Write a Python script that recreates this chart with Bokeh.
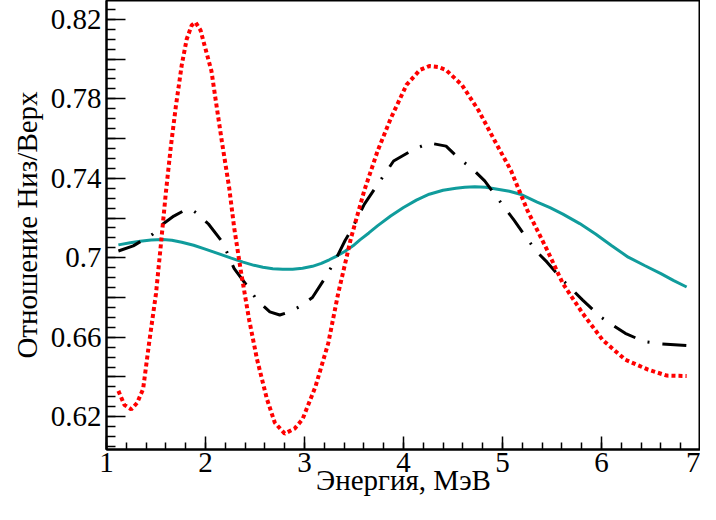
from bokeh.plotting import figure
from bokeh.models import FixedTicker, Range1d
from bokeh.embed import file_html
from bokeh.resources import INLINE

# Red dotted curve
red_x = [1.12, 1.18, 1.25, 1.31, 1.37, 1.43, 1.50, 1.55, 1.60, 1.65, 1.70, 1.76, 1.81, 1.86, 1.90,
         1.95, 1.99, 2.06, 2.11, 2.17, 2.24, 2.29, 2.355, 2.44, 2.52, 2.62, 2.70, 2.80, 2.90, 2.98,
         3.11, 3.24, 3.34, 3.41, 3.47, 3.605, 3.74, 3.87, 4.03, 4.165, 4.26, 4.35, 4.43, 4.59, 4.76,
         4.92, 5.085, 5.25, 5.45, 5.61, 5.81, 6.01, 6.24, 6.47, 6.66, 6.86]
red_y = [0.633, 0.626, 0.6237, 0.627, 0.634, 0.657, 0.682, 0.707, 0.733, 0.756, 0.776, 0.797, 0.810, 0.817, 0.8185,
         0.8145, 0.807, 0.794, 0.777, 0.757, 0.735, 0.715, 0.694, 0.669, 0.649, 0.629, 0.617, 0.6115, 0.614, 0.6187,
         0.635, 0.657, 0.682, 0.697, 0.710, 0.734, 0.754, 0.770, 0.787, 0.7945, 0.7965, 0.796, 0.7945, 0.787, 0.774,
         0.759, 0.744, 0.724, 0.704, 0.687, 0.672, 0.6587, 0.6487, 0.6437, 0.6407, 0.6405]

# Black dash-dot curve
blk_x = [1.12, 1.27, 1.47, 1.57, 1.68, 1.78, 1.85, 1.91, 2.03, 2.17, 2.29, 2.44, 2.52, 2.65, 2.75, 2.85,
         2.96, 3.08, 3.21, 3.31, 3.41, 3.47, 3.605, 3.74, 3.90, 4.10, 4.26, 4.43, 4.56, 4.69, 4.82, 4.95,
         5.12, 5.25, 5.35, 5.45, 5.61, 5.81, 5.99, 6.11, 6.24, 6.43, 6.60, 6.86]
blk_y = [0.7034, 0.706, 0.712, 0.717, 0.721, 0.7237, 0.7245, 0.7225, 0.717, 0.708, 0.6945, 0.6845, 0.6787, 0.6728, 0.6712, 0.6728,
         0.6757, 0.680, 0.690, 0.6987, 0.7087, 0.7137, 0.727, 0.737, 0.7487, 0.7545, 0.7578, 0.7562, 0.750, 0.745, 0.7387, 0.730,
         0.7187, 0.7095, 0.7028, 0.6978, 0.6887, 0.6787, 0.6703, 0.6662, 0.662, 0.6578, 0.6567, 0.6558]

# Teal solid curve
tel_x = [1.12, 1.24, 1.34, 1.45, 1.57, 1.66, 1.76, 1.88, 1.99, 2.13, 2.26, 2.38, 2.49, 2.58, 2.68, 2.78,
         2.88, 2.98, 3.08, 3.17, 3.25, 3.33, 3.41, 3.49, 3.56, 3.65, 3.74, 3.87, 4.00, 4.13, 4.26, 4.40,
         4.53, 4.62, 4.72, 4.83, 4.95, 5.07, 5.18, 5.35, 5.48, 5.61, 5.78, 5.94, 6.10, 6.27, 6.44, 6.60,
         6.73, 6.86]
tel_y = [0.7065, 0.7076, 0.7083, 0.7089, 0.7092, 0.7088, 0.7078, 0.7063, 0.7045, 0.7021, 0.6998, 0.6978, 0.6962, 0.6952, 0.6945, 0.6942,
         0.6942, 0.6947, 0.6957, 0.6972, 0.699, 0.7010, 0.7033, 0.7060, 0.709, 0.7125, 0.7162, 0.7210, 0.7253, 0.7290, 0.732, 0.7340,
         0.735, 0.7355, 0.7357, 0.7355, 0.7345, 0.7335, 0.732, 0.728, 0.7252, 0.722, 0.7172, 0.712, 0.7062, 0.7003, 0.6960, 0.692,
         0.6885, 0.6853]

x_ticks = [1, 2, 3, 4, 5, 6, 7]
y_ticks = [0.62, 0.64, 0.66, 0.68, 0.70, 0.72, 0.74, 0.76, 0.78, 0.80, 0.82]
y_labels = ["0.62", "", "0.66", "", "0.7", "", "0.74", "", "0.78", "", "0.82"]
x_title = "Энергия, МэВ"
y_title = "Отношение Низ/Верх"

FONT = "Liberation Serif"

p = figure(width=700, height=504, output_backend="svg", toolbar_location=None,
           x_range=Range1d(1, 7), y_range=Range1d(0.6035, 0.8295),
           min_border_left=106, min_border_right=0, min_border_top=0, min_border_bottom=55)
p.background_fill_color = "white"
p.border_fill_color = "white"
p.outline_line_color = "black"
p.outline_line_width = 2
p.grid.visible = False

p.line(tel_x, tel_y, line_color="#109c9c", line_width=3)
p.line(blk_x, blk_y, line_color="black", line_width=3, line_dash="24 13 2 13")
p.line(red_x, red_y, line_color="#ff0000", line_width=4, line_dash="4 3")

xminor = [round(1 + 0.2 * i, 2) for i in range(31)]
p.xaxis.ticker = FixedTicker(ticks=x_ticks, minor_ticks=xminor)
p.xaxis.major_label_overrides = {t: str(t) for t in x_ticks}
yminor = [round(0.605 + 0.005 * i, 3) for i in range(45)]
p.yaxis.ticker = FixedTicker(ticks=y_ticks, minor_ticks=yminor)
p.yaxis.major_label_overrides = {t: l for t, l in zip(y_ticks, y_labels)}

for ax in (p.xaxis[0], p.yaxis[0]):
    ax.axis_line_width = 2
    ax.axis_line_color = "black"
    ax.major_tick_out = 0
    ax.minor_tick_out = 0
    ax.major_tick_line_color = "black"
    ax.minor_tick_line_color = "black"
    ax.major_tick_line_width = 1.5
    ax.minor_tick_line_width = 1.5
    ax.major_label_text_font = FONT
    ax.major_label_text_font_size = "29px"
    ax.major_label_text_color = "black"
    ax.axis_label_text_font = FONT
    ax.axis_label_text_font_size = "29px"
    ax.axis_label_text_font_style = "normal"
    ax.axis_label_text_color = "black"

p.xaxis.major_tick_in = 13
p.xaxis.minor_tick_in = 7
p.yaxis.major_tick_in = 19
p.yaxis.minor_tick_in = 9
p.xaxis.major_label_standoff = 3
p.yaxis.major_label_standoff = 5
p.xaxis.axis_label = x_title
p.yaxis.axis_label = y_title
p.xaxis.axis_label_standoff = -11
p.yaxis.axis_label_standoff = 5

open("out.html", "w").write(file_html(p, INLINE))
